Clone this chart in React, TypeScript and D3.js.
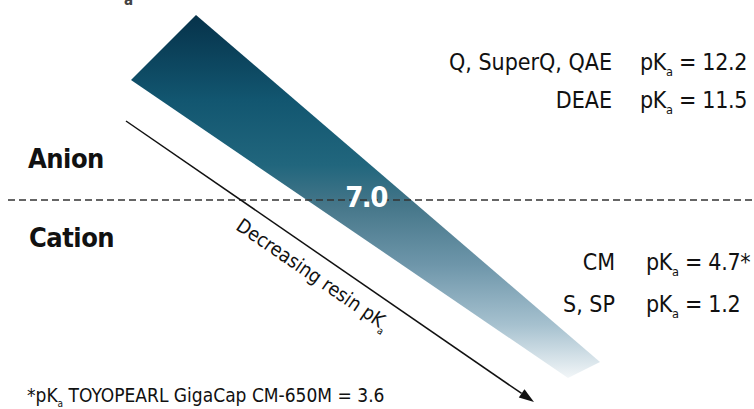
import React from 'react';
import * as d3 from 'd3';

const anionResins = ['Q, SuperQ, QAE', 'DEAE'];
const anionPka = ['12.2', '11.5'];
const cationResins = ['CM', 'S, SP'];
const cationPka = ['4.7*', '1.2'];
const neutralPka = '7.0';
const groupLabels = ['Anion', 'Cation'];
const arrowLabel = 'Decreasing resin pK';
const footnoteLabel = 'TOYOPEARL GigaCap CM-650M = 3.6';

// gradient stops along the wedge (vertical position in px, colour)
const gradientStops: [number, string][] = [
  [15, '#06324a'],
  [100, '#125670'],
  [165, '#21667d'],
  [205, '#457689'],
  [265, '#6e96aa'],
  [325, '#a6c1cf'],
  [378, '#f2f6f8'],
];

const W = 754;
const H = 409;
const FONT = '"Liberation Sans Narrow", "DejaVu Sans Condensed", "Roboto", sans-serif';

const wedge: [number, number][] = [
  [196, 15],
  [600, 362],
  [568, 378],
  [131, 80],
];

const arrowStart: [number, number] = [126, 121];
const arrowEnd: [number, number] = [534, 402];

function PK({ x, y, value, size }: { x: number; y: number; value: string; size: number }) {
  return (
    <text x={x} y={y} fontSize={size} fill="#111" fontFamily={FONT} letterSpacing={-0.3}>
      pK
      <tspan fontSize={size * 0.55} dy={6}>a</tspan>
      <tspan dy={-6}>{` = ${value}`}</tspan>
    </text>
  );
}

export default function App() {
  const gy = d3.scaleLinear().domain([15, 378]).range([0, 1]);
  const anionY = d3.scalePoint<string>().domain(anionResins).range([70, 108]);
  const cationY = d3.scalePoint<string>().domain(cationResins).range([270, 312]);
  const line = d3.line();

  const dx = arrowEnd[0] - arrowStart[0];
  const dy = arrowEnd[1] - arrowStart[1];
  const ang = Math.atan2(dy, dx);
  const deg = (ang * 180) / Math.PI;
  const head = 15;
  const hw = 5;
  const ux = Math.cos(ang);
  const uy = Math.sin(ang);
  const base: [number, number] = [arrowEnd[0] - ux * head, arrowEnd[1] - uy * head];
  const headPts: [number, number][] = [
    arrowEnd,
    [base[0] - uy * hw, base[1] + ux * hw],
    [base[0] + uy * hw, base[1] - ux * hw],
  ];
  const labelT = 111 / dx;
  const labelOrigin = [arrowStart[0] + dx * labelT, arrowStart[1] + dy * labelT];

  return (
    <svg width={W} height={H} style={{ position: 'absolute', left: 0, top: 0 }}>
      <defs>
        <linearGradient id="wedgeGrad" gradientUnits="userSpaceOnUse" x1={0} y1={15} x2={0} y2={378}>
          {gradientStops.map(([y, c], i) => (
            <stop key={i} offset={gy(y)} stopColor={c} />
          ))}
        </linearGradient>
      </defs>
      <rect width={W} height={H} fill="#fff" />

      <text x={124} y={5} fontSize={15} fontWeight="bold" fill="#444" fontFamily={FONT}>a</text>

      <path d={line(wedge) + 'Z'} fill="url(#wedgeGrad)" />

      <line x1={8} x2={W} y1={200} y2={200} stroke="#333" strokeWidth={1.5} strokeDasharray="7,4" />

      <text x={366} y={207} fontSize={29} fontWeight="bold" fill="#fff" textAnchor="middle" fontFamily={FONT} letterSpacing={-1.5}>
        {neutralPka}
      </text>

      <text x={28} y={168} fontSize={27} fontWeight="bold" fill="#111" fontFamily={FONT} letterSpacing={-0.5}>{groupLabels[0]}</text>
      <text x={29} y={247} fontSize={27} fontWeight="bold" fill="#111" fontFamily={FONT} letterSpacing={-0.5}>{groupLabels[1]}</text>

      {anionResins.map((r, i) => (
        <g key={r}>
          <text x={612} y={anionY(r)} fontSize={23} fill="#111" textAnchor="end" fontFamily={FONT}>{r}</text>
          <PK x={640} y={anionY(r)!} value={anionPka[i]} size={23} />
        </g>
      ))}
      {cationResins.map((r, i) => (
        <g key={r}>
          <text x={615} y={cationY(r)} fontSize={23} fill="#111" textAnchor="end" fontFamily={FONT}>{r}</text>
          <PK x={646} y={cationY(r)!} value={cationPka[i]} size={23} />
        </g>
      ))}

      <line x1={arrowStart[0]} y1={arrowStart[1]} x2={base[0]} y2={base[1]} stroke="#111" strokeWidth={1.5} />
      <path d={line(headPts) + 'Z'} fill="#111" />

      <g transform={`translate(${labelOrigin[0]},${labelOrigin[1]}) rotate(${deg})`}>
        <text x={16} y={27} fontSize={19.5} fill="#111" fontFamily={FONT}>
          {arrowLabel}
          <tspan fontSize={10} dy={5}>a</tspan>
        </text>
      </g>

      <text x={27} y={402} fontSize={19} fill="#111" fontFamily={FONT}>
        *pK
        <tspan fontSize={10} dy={5}>a</tspan>
        <tspan dy={-5}>{' ' + footnoteLabel}</tspan>
      </text>
    </svg>
  );
}
